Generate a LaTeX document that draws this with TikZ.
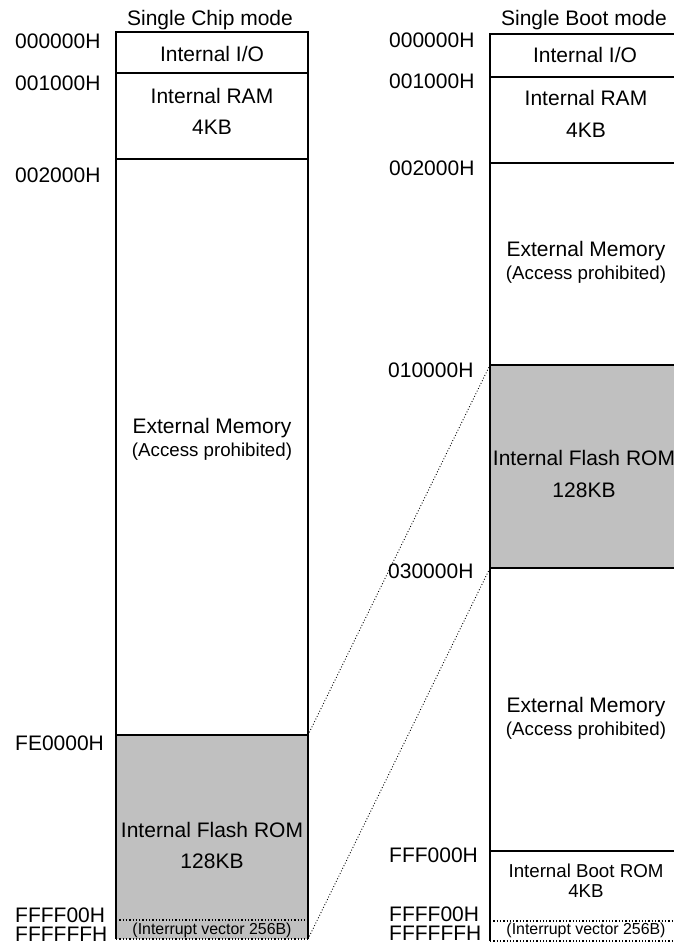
\documentclass[tikz,border=0pt]{standalone}
\usepackage{fontspec}
\setmainfont{Liberation Sans}
\definecolor{romgray}{HTML}{C0C0C0}
\begin{document}
\begin{tikzpicture}[x=1pt,y=-1pt,
  solidline/.style={line width=1.6pt},
  dotline/.style={line width=1.3pt, dotted},
  conn/.style={line width=0.9pt, dotted},
  addr/.style={anchor=base west, inner sep=0pt, font=\fontsize{21}{25}\selectfont},
  lbl/.style={anchor=base, inner sep=0pt, font=\fontsize{21}{25}\selectfont},
  midlbl/.style={anchor=base, inner sep=0pt, font=\fontsize{18.7}{22}\selectfont},
  smalllbl/.style={anchor=base, inner sep=0pt, font=\fontsize{15.9}{19}\selectfont},
  rom/.style={fill=romgray}
]
\useasboundingbox (0,0) rectangle (673,943);

% ---------------- Left: Single Chip mode ----------------
\fill[romgray] (116,735) rectangle (308,939);
\draw[solidline] (116,939) -- (116,32) -- (308,32) -- (308,939);
\draw[solidline] (116,73) -- (308,73);
\draw[solidline] (116,159) -- (308,159);
\draw[solidline] (116,735) -- (308,735);
\draw[dotline] (116,920) -- (308,920);
\draw[dotline] (116,939) -- (308,939);

\node[lbl] (ltitle) at (210,25) {Single Chip mode};
\node[addr] (la0) at (15,48) {000000H};
\node[addr] (la1) at (15,90) {001000H};
\node[addr] (la2) at (15,182) {002000H};
\node[addr] (la3) at (15,750) {FE0000H};
\node[addr] (la4) at (15,922) {FFFF00H};
\node[addr] (la5) at (15,941) {FFFFFFH};

\node[lbl] (lio) at (212,61) {Internal I/O};
\node[lbl] (lram) at (212,103) {Internal RAM};
\node[lbl] (lram2) at (212,134) {4KB};
\node[lbl] (lext) at (212,433) {External Memory};
\node[midlbl] (lext2) at (212,456) {(Access prohibited)};
\node[lbl] (lrom) at (212,837) {Internal Flash ROM};
\node[lbl] (lrom2) at (212,868) {128KB};
\node[smalllbl] (livec) at (212,934) {(Interrupt vector 256B)};

% ---------------- Right: Single Boot mode ----------------
\fill[romgray] (490,365) rectangle (682,568);
\draw[solidline] (490,941) -- (490,34) -- (682,34) -- (682,941);
\draw[solidline] (490,77) -- (682,77);
\draw[solidline] (490,163) -- (682,163);
\draw[solidline] (490,365) -- (682,365);
\draw[solidline] (490,568) -- (682,568);
\draw[solidline] (490,851) -- (682,851);
\draw[dotline] (490,921) -- (682,921);
\draw[dotline] (490,941) -- (682,941);

\node[lbl] (rtitle) at (584,25) {Single Boot mode};
\node[addr] (ra0) at (389,47) {000000H};
\node[addr] (ra1) at (389,88) {001000H};
\node[addr] (ra2) at (389,175) {002000H};
\node[addr] (ra3) at (388,377) {010000H};
\node[addr] (ra4) at (388,578) {030000H};
\node[addr] (ra5) at (389,862) {FFF000H};
\node[addr] (ra6) at (389,921) {FFFF00H};
\node[addr] (ra7) at (389,940) {FFFFFFH};

\node[lbl] (rio) at (585,62) {Internal I/O};
\node[lbl] (rram) at (586,105) {Internal RAM};
\node[lbl] (rram2) at (586,137) {4KB};
\node[lbl] (rext) at (586,256) {External Memory};
\node[midlbl] (rext2) at (586,279) {(Access prohibited)};
\node[lbl] (rrom) at (584,465) {Internal Flash ROM};
\node[lbl] (rrom2) at (584,497) {128KB};
\node[lbl] (rext3) at (586,712) {External Memory};
\node[midlbl] (rext4) at (586,735) {(Access prohibited)};
\node[midlbl] (rboot) at (586,877) {Internal Boot ROM};
\node[midlbl] (rboot2) at (586,897) {4KB};
\node[smalllbl] (rivec) at (586,934) {(Interrupt vector 256B)};

% ---------------- Connectors ----------------
\coordinate (lfe) at (308,735);
\coordinate (lbot) at (308,939);
\coordinate (r10) at (490,365);
\coordinate (r30) at (490,568);
\draw[conn] (lfe) -- (r10);
\draw[conn] (lbot) -- (r30);
\end{tikzpicture}
\end{document}
